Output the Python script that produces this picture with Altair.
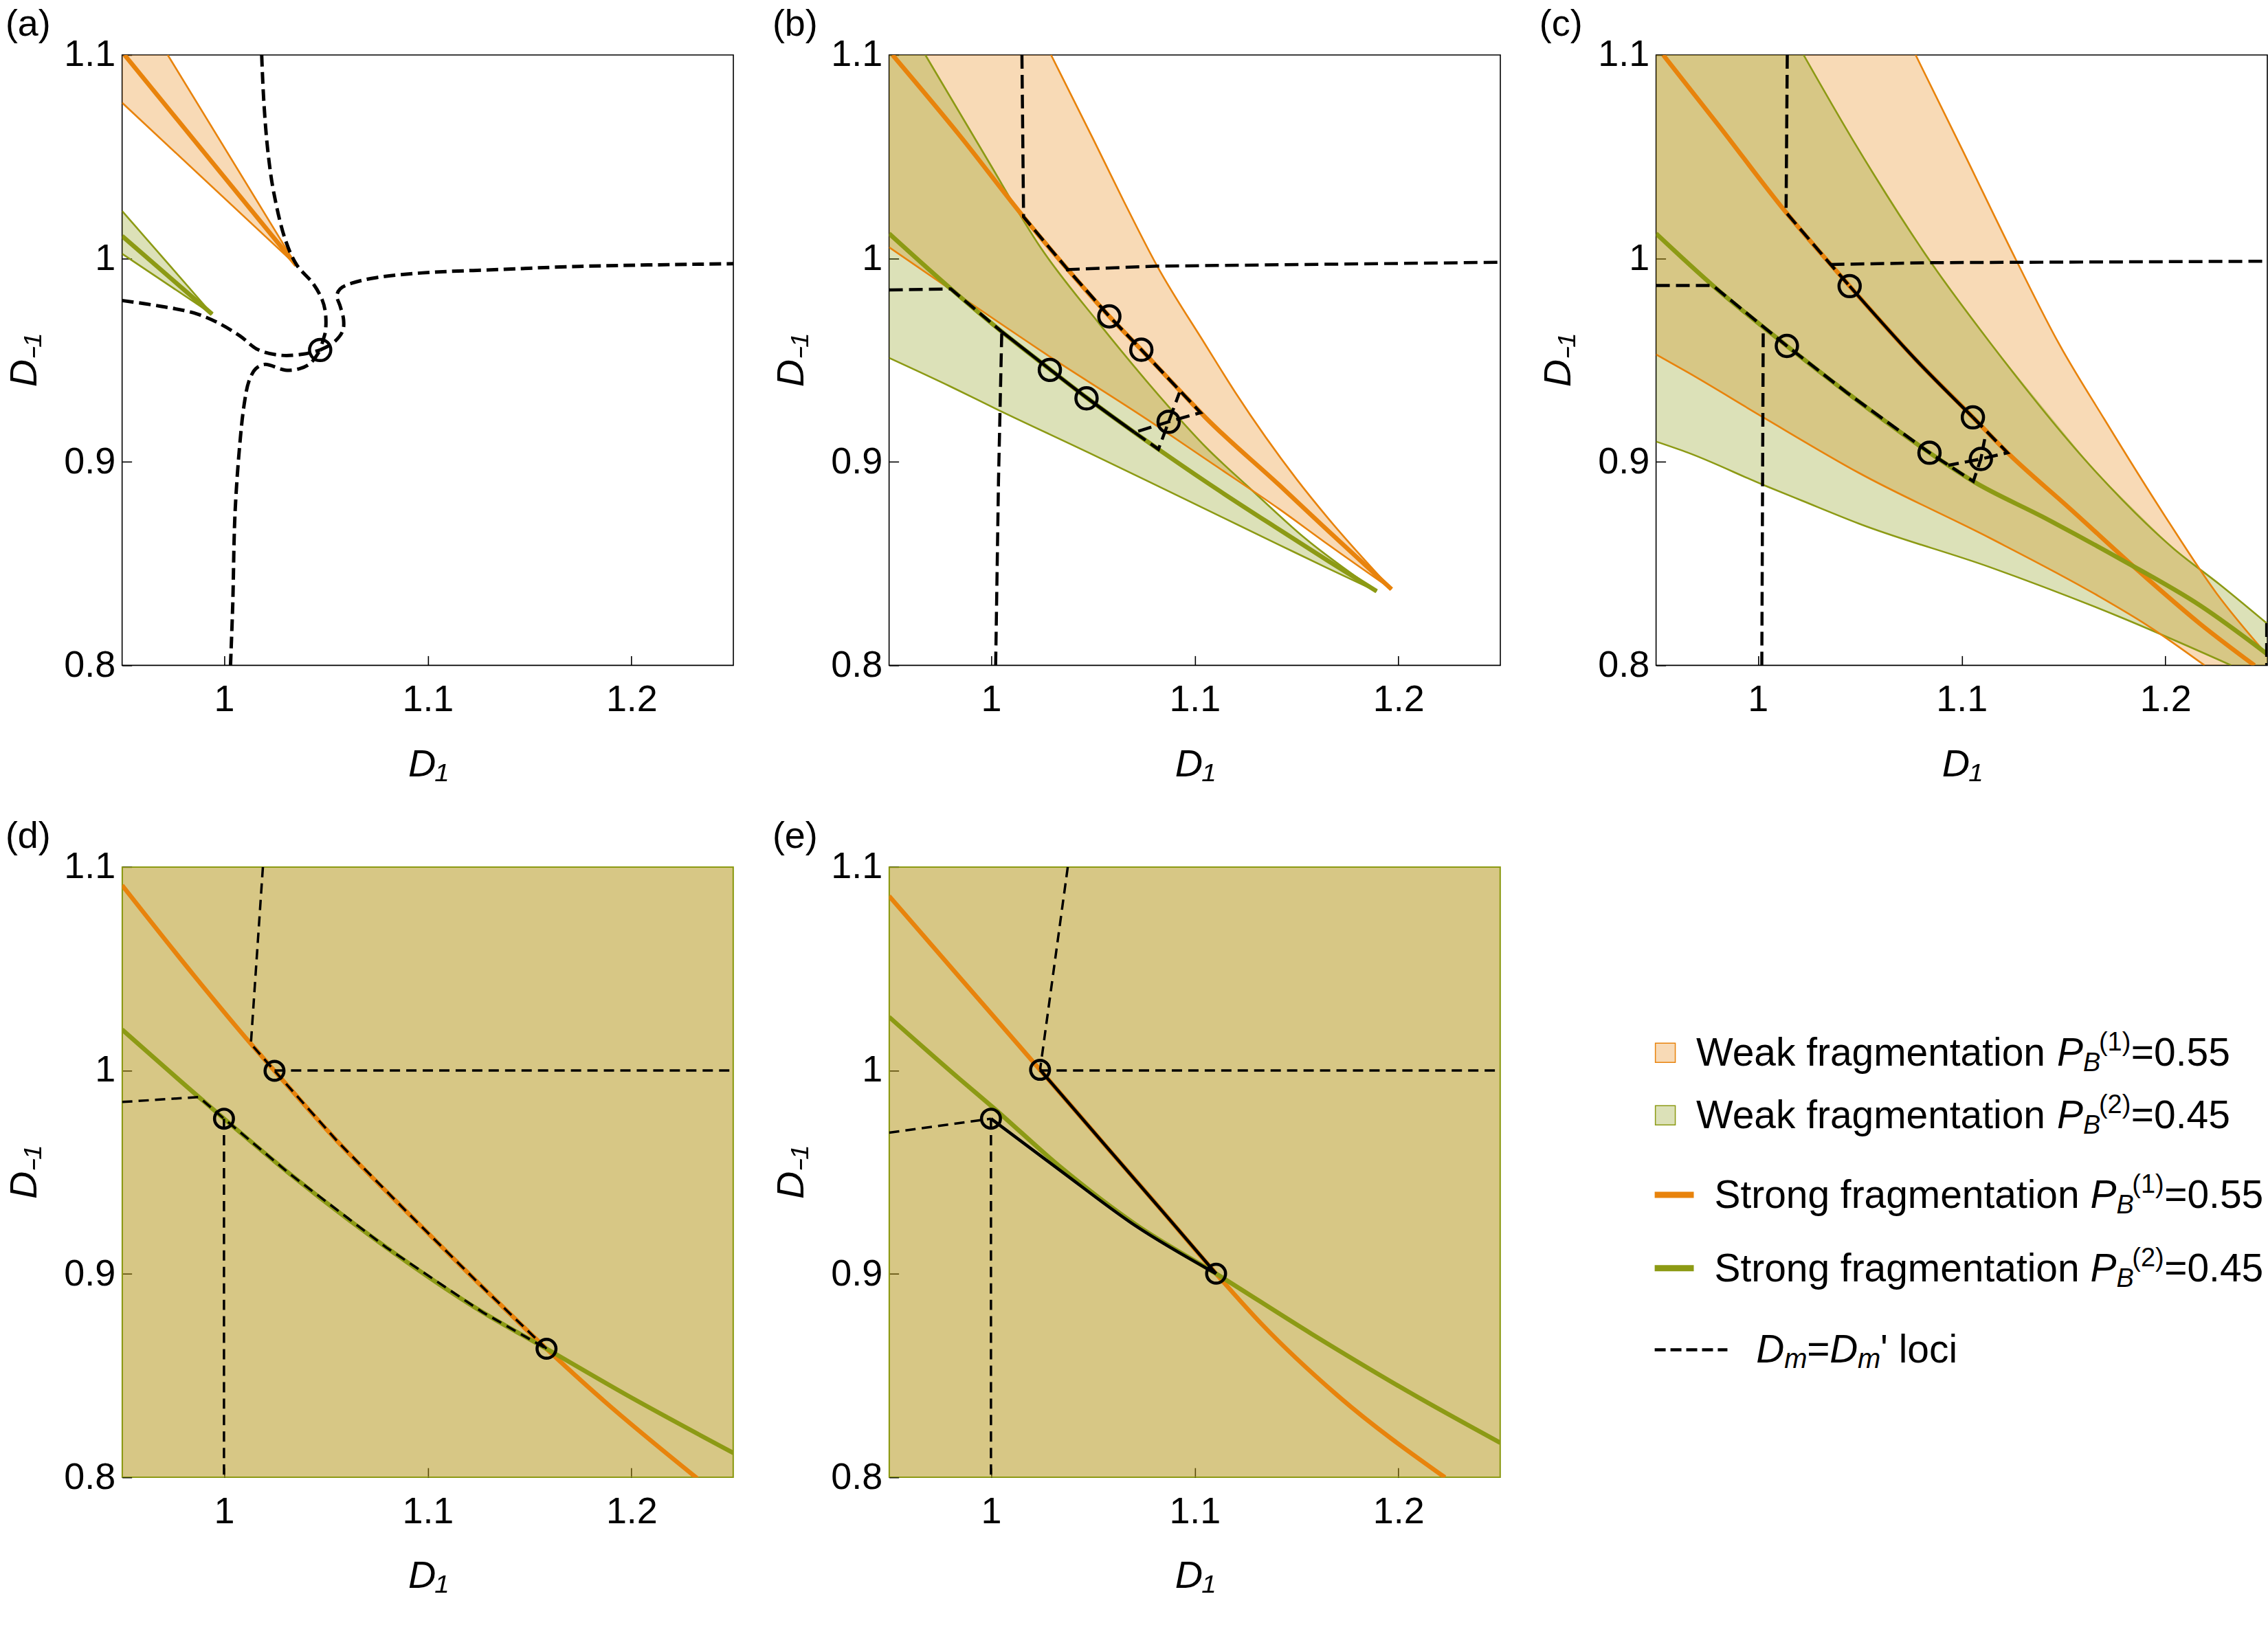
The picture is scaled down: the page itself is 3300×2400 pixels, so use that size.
import altair as alt
import pandas as pd

FONT = "Liberation Sans"
XMIN, XMAX, YMIN, YMAX = 0.95, 1.25, 0.8, 1.1
X_TICKS = [1.0, 1.1, 1.2]
Y_TICKS = [0.8, 0.9, 1.0, 1.1]
ORANGE = "#E8830C"
GREEN = "#8C9A14"
FILL_OPACITY = 0.3
W, H = 891, 890

# ---------------- panel (a) ----------------
A_OR_UP = [(0.9724, 1.1), (1.0355, 0.9966)]
A_OR_LO = [(0.95, 1.0765), (1.0355, 0.9966)]
A_OR_ST = [(0.9512, 1.1), (1.0355, 0.9966)]
A_GR_UP = [(0.95, 1.0233), (0.9942, 0.9726)]
A_GR_LO = [(0.95, 1.0023), (0.9942, 0.9726)]
A_GR_ST = [(0.95, 1.011), (0.9942, 0.9726)]
A_DASH_1 = [(1.0185, 1.1), (1.0195, 1.078), (1.0215, 1.053), (1.0245, 1.032), (1.0301, 1.0092),
            (1.0357, 0.9968), (1.0436, 0.9878), (1.0481, 0.9799), (1.0498, 0.9732), (1.0498, 0.9642),
            (1.0486, 0.9597), (1.0472, 0.955)]
A_DASH_2 = [(1.0472, 0.955), (1.0537, 0.9586), (1.0582, 0.9642), (1.0587, 0.9698), (1.057, 0.9766),
            (1.0554, 0.9816), (1.057, 0.985), (1.0627, 0.9878), (1.075, 0.9906), (1.0974, 0.9929),
            (1.1367, 0.9946), (1.1744, 0.9961), (1.25, 0.9974)]
A_DASH_3 = [(0.95, 0.9793), (0.9689, 0.9765), (0.9852, 0.9732), (0.9964, 0.9687), (1.0077, 0.962),
            (1.0166, 0.9552), (1.0279, 0.9524), (1.0391, 0.953), (1.0472, 0.955)]
A_DASH_4 = [(1.0032, 0.8), (1.0043, 0.83), (1.0054, 0.8743), (1.0077, 0.908), (1.0099, 0.9282),
            (1.0122, 0.9395), (1.0155, 0.9457), (1.02, 0.9479), (1.0301, 0.9451), (1.0368, 0.9457),
            (1.0425, 0.9485), (1.0472, 0.955)]
A_CIRCLES = [(1.0472, 0.955)]

# ---------------- panel (b) ----------------
B_OR_UP = [(1.0295, 1.1), (1.05, 1.059), (1.065, 1.0285), (1.0816, 0.9962), (1.105, 0.958), (1.12, 0.934),
           (1.15, 0.8915), (1.1657, 0.872), (1.1966, 0.8374)]
B_OR_LO = [(0.95, 1.0055), (0.9806, 0.9844), (1.0289, 0.9517), (1.0793, 0.9191), (1.1052, 0.9015),
           (1.1415, 0.8768), (1.1657, 0.8592), (1.1966, 0.8374)]
B_OR_ST = [(0.9517, 1.1), (0.985, 1.06), (1.016, 1.0204), (1.0368, 0.9956), (1.0581, 0.9715), (1.0738, 0.9551),
           (1.0928, 0.9349), (1.1052, 0.9219), (1.1415, 0.8886), (1.1657, 0.8659), (1.1966, 0.8374)]
B_GR_UP = [(0.9678, 1.1), (0.9974, 1.05), (1.0246, 1.005), (1.0535, 0.9675), (1.0884, 0.9258), (1.1052, 0.9075),
           (1.127, 0.8871), (1.1536, 0.8629), (1.1893, 0.8364)]
B_GR_LO = [(0.95, 0.9511), (0.9806, 0.9368), (1.003, 0.9258), (1.048, 0.9045), (1.076, 0.891), (1.1052, 0.8768),
           (1.1415, 0.8592), (1.1657, 0.8475), (1.1893, 0.8364)]
B_GR_ST = [(0.95, 1.0122), (0.9806, 0.9848), (1.0053, 0.964), (1.0289, 0.9455), (1.0469, 0.9316), (1.0704, 0.9145),
           (1.0822, 0.9062), (1.1052, 0.8904), (1.1415, 0.8667), (1.1657, 0.8512), (1.1893, 0.8364)]
B_DASH = [
    [(1.0152, 1.1), (1.016, 1.0204), (1.0368, 0.9956), (1.0581, 0.9715), (1.0738, 0.9551), (1.0928, 0.9349),
     (1.1029, 0.9242), (1.0872, 0.9197), (1.0704, 0.9145)],
    [(0.95, 0.9845), (0.9803, 0.985), (1.0053, 0.964)],
    [(1.0704, 0.9145), (1.0822, 0.9062), (1.0872, 0.9197), (1.0925, 0.934)],
    [(1.0023, 0.8), (1.0037, 0.891), (1.0053, 0.964)],
    [(1.0368, 0.9945), (1.0816, 0.9962), (1.25, 0.9981)],
]
B_SOLID = [[(1.0053, 0.964), (1.0289, 0.9455), (1.0469, 0.9316), (1.0704, 0.9145)]]
B_CIRCLES = [(1.0581, 0.9715), (1.0738, 0.9551), (1.0289, 0.9452), (1.0469, 0.9312), (1.0872, 0.9197)]

# ---------------- panel (c) ----------------
C_OR_UP = [(1.0774, 1.1), (1.1, 1.054), (1.127, 0.9986), (1.1475, 0.9585), (1.17, 0.921), (1.2, 0.873),
           (1.225, 0.8355), (1.25, 0.805)]
C_OR_LO = [(0.95, 0.9528), (0.9657, 0.9439), (1.0026, 0.9219), (1.0497, 0.8945), (1.114, 0.8625),
           (1.1655, 0.835), (1.1912, 0.8196), (1.2192, 0.8)]
C_OR_ST = [(0.9535, 1.1), (0.9807, 1.0654), (1.0138, 1.0226), (1.0357, 0.997), (1.045, 0.9864), (1.0777, 0.95),
           (1.1055, 0.9219), (1.1225, 0.9045), (1.1526, 0.8775), (1.1912, 0.8425), (1.2169, 0.8205), (1.2437, 0.8)]
C_GR_UP = [(1.0224, 1.1), (1.0467, 1.058), (1.085, 0.9979), (1.114, 0.9585), (1.1655, 0.8955), (1.2041, 0.8573),
           (1.2272, 0.8393), (1.2497, 0.8207)]
C_GR_LO = [(0.95, 0.91), (0.9657, 0.9045), (1.0026, 0.8887), (1.0217, 0.8809), (1.0497, 0.8696), (1.114, 0.8482),
           (1.1783, 0.8235), (1.2323, 0.8)]
C_GR_ST = [(0.95, 1.0122), (0.9778, 0.9867), (1.0142, 0.957), (1.0441, 0.9337), (1.0842, 0.9045), (1.1057, 0.8904),
           (1.1397, 0.873), (1.1783, 0.852), (1.2169, 0.8295), (1.25, 0.8055)]
C_DASH = [
    [(1.0144, 1.1), (1.0138, 1.0226), (1.0357, 0.997), (1.045, 0.9864)],
    [(1.1055, 0.9219), (1.1225, 0.9045), (1.1094, 0.9014), (1.0934, 0.8983)],
    [(0.95, 0.9867), (0.9778, 0.9867), (1.0142, 0.957), (1.0441, 0.9337), (1.0842, 0.9045), (1.1057, 0.8904),
     (1.1094, 0.9014), (1.1113, 0.9112)],
    [(1.0019, 0.8), (1.0026, 0.9665)],
    [(1.0357, 0.997), (1.085, 0.9979), (1.25, 0.9986)],
    [(1.2497, 0.8207), (1.2497, 0.8)],
]
C_SOLID = [[(1.045, 0.9864), (1.0777, 0.95), (1.1055, 0.9219)]]
C_CIRCLES = [(1.045, 0.9864), (1.0142, 0.957), (1.1055, 0.9219), (1.0842, 0.9045), (1.1094, 0.9014)]

# ---------------- panel (d) ----------------
D_OR_ST = [(0.95, 1.091), (0.9854, 1.0465), (1.0137, 1.0125), (1.0248, 0.9998), (1.0561, 0.9647),
           (1.0915, 0.9287), (1.1269, 0.8935), (1.1583, 0.8632), (1.1858, 0.8382), (1.2323, 0.7995)]
D_GR_ST = [(0.95, 1.0201), (0.9877, 0.9869), (1.0, 0.9763), (1.0325, 0.949), (1.0797, 0.913), (1.1269, 0.8812),
           (1.1583, 0.8632), (1.1976, 0.8405), (1.25, 0.812)]
D_DASH = [
    [(1.0191, 1.1), (1.0132, 1.0131), (1.0248, 0.9998), (1.0561, 0.9647), (1.0915, 0.9287), (1.1269, 0.8935),
     (1.1583, 0.8632)],
    [(1.0248, 1.0), (1.25, 1.0)],
    [(0.95, 0.9845), (0.9877, 0.9869), (1.0, 0.9763), (1.0325, 0.949), (1.0797, 0.913), (1.1269, 0.8812),
     (1.1583, 0.8632)],
    [(1.0, 0.9763), (1.0, 0.8)],
]
D_CIRCLES = [(1.0248, 0.9998), (1.0, 0.9763), (1.1583, 0.8632)]

# ---------------- panel (e) ----------------
E_OR_ST = [(0.95, 1.0857), (0.9846, 1.0458), (1.0241, 1.0003), (1.0586, 0.9603), (1.0833, 0.9318),
           (1.1105, 0.9001), (1.1327, 0.8755), (1.1698, 0.8405), (1.2228, 0.8)]
E_GR_ST = [(0.95, 1.0263), (0.9846, 0.9958), (1.0006, 0.9822), (1.0339, 0.9527), (1.071, 0.9243), (1.1105, 0.9001),
           (1.1574, 0.8705), (1.2068, 0.841), (1.25, 0.817)]
E_DASH = [
    [(1.0377, 1.1), (1.0241, 1.0003)],
    [(1.0241, 1.0), (1.25, 1.0)],
    [(0.95, 0.9694), (1.0, 0.9763)],
    [(1.0, 0.9763), (1.0, 0.8)],
]
E_SOLID = [[(1.0241, 1.0003), (1.0586, 0.9603), (1.0833, 0.9318), (1.1105, 0.9001)],
           [(1.0, 0.9763), (1.0339, 0.9509), (1.071, 0.9236), (1.1105, 0.9001)]]
E_CIRCLES = [(1.0241, 1.0003), (1.0, 0.9763), (1.1105, 0.9001)]

# ---------------- legend ----------------
LEGEND_TEXT = ["Weak fragmentation", "Weak fragmentation", "Strong fragmentation", "Strong fragmentation"]
LEGEND_SUP = ["(1)", "(2)", "(1)", "(2)"]
LEGEND_VAL = ["=0.55", "=0.45", "=0.55", "=0.45"]

TL = (XMIN, YMAX)
BR = (XMAX, YMIN)
FULL = [(XMIN, YMAX), (XMAX, YMAX), (XMAX, YMIN), (XMIN, YMIN)]


def region(upper, lower, head=(), mid=()):
    return list(head) + list(upper) + list(mid) + list(lower)[::-1]


def paths_df(paths):
    rows = []
    for k, pts in enumerate(paths):
        for i, (x, y) in enumerate(pts):
            rows.append({"id": k, "i": i, "x": x, "y": y})
    return pd.DataFrame(rows)


XS = alt.Scale(domain=[XMIN, XMAX], nice=False, zero=False)
YS = alt.Scale(domain=[YMIN, YMAX], nice=False, zero=False)

AX_X = alt.Axis(orient="bottom", values=X_TICKS, format="~g", ticks=False, domain=False, grid=False,
                labelFont=FONT, labelFontSize=54, labelPadding=23, labelColor="black",
                title="D₁", titleFont=FONT, titleFontSize=56, titleFontStyle="italic",
                titleFontWeight="normal", titlePadding=40, titleColor="black")
AX_Y = alt.Axis(orient="left", values=Y_TICKS, format="~g", ticks=False, domain=False, grid=False,
                labelFont=FONT, labelFontSize=54, labelPadding=10, labelColor="black",
                title="D₋₁", titleFont=FONT, titleFontSize=56, titleFontStyle="italic",
                titleFontWeight="normal", titlePadding=28, titleColor="black")
TK_X = alt.Axis(orient="top", offset=-H, values=X_TICKS, labels=False, domain=False, grid=False,
                ticks=True, tickSize=14, tickWidth=1.6, tickColor="black", title="")
TK_Y = alt.Axis(orient="right", offset=-W, values=Y_TICKS, labels=False, domain=False, grid=False,
                ticks=True, tickSize=14, tickWidth=1.6, tickColor="black", title="")


def enc(ch, xaxis=None, yaxis=None):
    return ch.encode(x=alt.X("x:Q", scale=XS, axis=xaxis), y=alt.Y("y:Q", scale=YS, axis=yaxis),
                     detail="id:N", order="i:Q")


def panel(label, or_polys, gr_polys, thin_or, thin_gr, thick_or, thick_gr, dashed, solid, circles,
          dash, dash_w, dash_interp, circ_size, frame_color="black", thin_interp="monotone"):
    layers = []
    layers.append(enc(alt.Chart(paths_df(or_polys)).mark_line(
        fill=ORANGE, fillOpacity=FILL_OPACITY, strokeOpacity=0, clip=True), AX_X, AX_Y))
    layers.append(enc(alt.Chart(paths_df(gr_polys)).mark_line(
        fill=GREEN, fillOpacity=FILL_OPACITY, strokeOpacity=0, clip=True)))
    if thin_gr:
        layers.append(enc(alt.Chart(paths_df(thin_gr)).mark_line(
            color=GREEN, strokeWidth=2.6, clip=True, interpolate=thin_interp)))
    if thin_or:
        layers.append(enc(alt.Chart(paths_df(thin_or)).mark_line(
            color=ORANGE, strokeWidth=2.6, clip=True, interpolate=thin_interp)))
    layers.append(enc(alt.Chart(paths_df(thick_or)).mark_line(
        color=ORANGE, strokeWidth=6.5, clip=True, interpolate="monotone")))
    layers.append(enc(alt.Chart(paths_df(thick_gr)).mark_line(
        color=GREEN, strokeWidth=6.5, clip=True, interpolate="monotone")))
    if solid:
        layers.append(enc(alt.Chart(paths_df(solid)).mark_line(
            color="black", strokeWidth=4.5, clip=True, interpolate="monotone")))
    layers.append(enc(alt.Chart(paths_df(dashed)).mark_line(
        color="black", strokeWidth=dash_w, strokeDash=dash, clip=True, interpolate=dash_interp)))
    cdf = pd.DataFrame({"x": [c[0] for c in circles], "y": [c[1] for c in circles]})
    layers.append(alt.Chart(cdf).mark_point(shape="circle", filled=False, color="black", size=circ_size,
                                            strokeWidth=4.5, opacity=1, clip=True).encode(
        x=alt.X("x:Q", scale=XS, axis=None), y=alt.Y("y:Q", scale=YS, axis=None)))
    tick_df = pd.DataFrame({"x": [XMIN], "y": [YMIN]})
    layers.append(alt.Chart(tick_df).mark_point(opacity=0).encode(
        x=alt.X("x:Q", scale=XS, axis=TK_X), y=alt.Y("y:Q", scale=YS, axis=TK_Y)))
    return alt.layer(*layers).properties(
        width=W, height=H,
        title=alt.TitleParams(label, anchor="start", frame="bounds", fontSize=54, font=FONT,
                              fontWeight="normal", color="black", offset=-10),
        view=alt.ViewBackground(stroke=frame_color, strokeWidth=1.6))


pa = panel("(a)",
           [region(A_OR_UP, A_OR_LO, head=[TL])], [region(A_GR_UP, A_GR_LO)],
           [A_OR_UP, A_OR_LO], [A_GR_UP, A_GR_LO], [A_OR_ST], [A_GR_ST],
           [A_DASH_1, A_DASH_2, A_DASH_3, A_DASH_4], [], A_CIRCLES,
           [17, 8], 5, "catmull-rom", 960)
pb = panel("(b)",
           [region(B_OR_UP, B_OR_LO, head=[TL])], [region(B_GR_UP, B_GR_LO, head=[TL])],
           [B_OR_UP, B_OR_LO], [B_GR_UP, B_GR_LO], [B_OR_ST], [B_GR_ST],
           B_DASH, B_SOLID, B_CIRCLES, [20, 9], 4.5, "linear", 960)
pc = panel("(c)",
           [region(C_OR_UP, C_OR_LO, head=[TL], mid=[BR])], [region(C_GR_UP, C_GR_LO, head=[TL], mid=[BR])],
           [C_OR_UP, C_OR_LO], [C_GR_UP, C_GR_LO], [C_OR_ST], [C_GR_ST],
           C_DASH, C_SOLID, C_CIRCLES, [20, 9], 4.5, "linear", 960)
pd_ = panel("(d)", [FULL], [FULL], [], [FULL + [FULL[0]]], [D_OR_ST], [D_GR_ST],
            D_DASH, [], D_CIRCLES, [15, 9], 3.5, "linear", 760, frame_color=GREEN, thin_interp="linear")
pe = panel("(e)", [FULL], [FULL], [], [FULL + [FULL[0]]], [E_OR_ST], [E_GR_ST],
           E_DASH, E_SOLID, E_CIRCLES, [15, 9], 3.5, "linear", 760, frame_color=GREEN, thin_interp="linear")

# ---------------- legend cell ----------------
OX, OY = 2235, 1265  # expected origin of the legend cell on the page


def txt(t, x, y, size, italic=False):
    return alt.Chart(pd.DataFrame({"t": [t]})).mark_text(
        align="left", baseline="alphabetic", font=FONT, fontSize=size,
        fontStyle="italic" if italic else "normal", color="black").encode(
        x=alt.value(x - OX), y=alt.value(y - OY), text="t:N")


leg_layers = []
one = pd.DataFrame({"k": [0]})
ROW_BASE = [1555, 1646, 1762, 1869]
ROW_T = [2464.5, 2464.5, 2491, 2491]
ROW_SYM = [1536, 1627, 1743, 1850]
for r in range(4):
    col = ORANGE if r % 2 == 0 else GREEN
    if r < 2:
        leg_layers.append(alt.Chart(one).mark_rect(fill=col, fillOpacity=FILL_OPACITY, stroke=col,
                                                   strokeWidth=1.5).encode(
            x=alt.value(2405 - OX), x2=alt.value(2434 - OX),
            y=alt.value(ROW_SYM[r] - 14 - OY), y2=alt.value(ROW_SYM[r] + 14 - OY)))
    else:
        leg_layers.append(alt.Chart(one).mark_rule(color=col, strokeWidth=9).encode(
            x=alt.value(2404 - OX), x2=alt.value(2461 - OX), y=alt.value(ROW_SYM[r] - OY)))
    T = ROW_T[r]
    b = ROW_BASE[r]
    pw = 526 if r < 2 else 548
    leg_layers.append(txt(LEGEND_TEXT[r], T, b, 57))
    leg_layers.append(txt("P", T + pw, b, 57, italic=True))
    leg_layers.append(txt("B", T + pw + 38, b + 8, 38, italic=True))
    leg_layers.append(txt(LEGEND_SUP[r], T + pw + 61, b - 22, 38))
    leg_layers.append(txt(LEGEND_VAL[r], T + pw + 108, b, 57))

leg_layers.append(alt.Chart(one).mark_rule(color="black", strokeWidth=4.5, strokeDash=[16, 7]).encode(
    x=alt.value(2404 - OX), x2=alt.value(2510 - OX), y=alt.value(1969 - OY)))
leg_layers.append(txt("D", 2552, 1987, 57, italic=True))
leg_layers.append(txt("m", 2593, 1996, 40, italic=True))
leg_layers.append(txt("=", 2626, 1987, 57))
leg_layers.append(txt("D", 2659, 1987, 57, italic=True))
leg_layers.append(txt("m", 2700, 1996, 40, italic=True))
leg_layers.append(txt("' loci", 2733, 1987, 57))

legend = alt.layer(*leg_layers).properties(
    width=1060, height=H, view=alt.ViewBackground(strokeOpacity=0))

row1 = alt.hconcat(pa, pb, pc, spacing=55)
row2 = alt.hconcat(pd_, pe, legend, spacing=55)
chart = alt.vconcat(row1, row2, spacing=49).properties(
    padding={"left": 7, "top": 6, "right": 0, "bottom": 0}, background="white"
).configure_view(stroke="black", strokeWidth=1.6)

chart.save("out.html", embed_options={"renderer": "svg", "actions": False})
